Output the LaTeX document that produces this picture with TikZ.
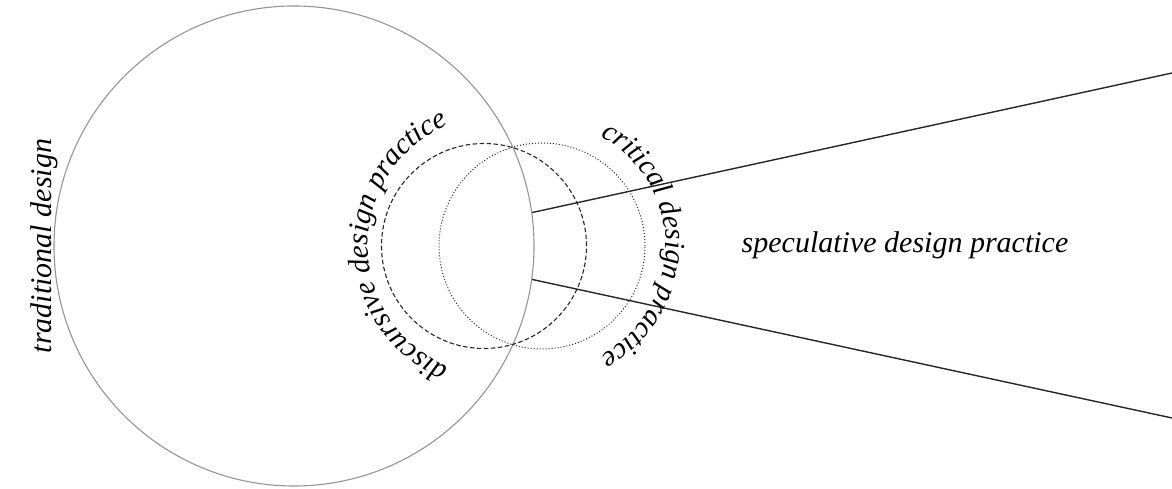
\documentclass[tikz,border=0pt]{standalone}
\usepackage{fontspec}
\setmainfont{Liberation Serif}
\usetikzlibrary{decorations.text,calc}
\newcommand{\lblfont}{\itshape\fontsize{30}{36}\selectfont}
\newcommand{\discfont}{\itshape\fontsize{29.5}{35}\selectfont}
\newcommand{\critfont}{\itshape\fontsize{29}{35}\selectfont}
\tikzset{
  bigcirc/.style={circle, draw=black!42, line width=1.1pt, inner sep=0pt, minimum size=480pt},
  dashcirc/.style={circle, draw=black!85, dashed, dash pattern=on 4.5pt off 2.5pt, line width=1.1pt, inner sep=0pt, minimum size=205pt},
  dotcirc/.style={circle, draw=black!85, dotted, line width=1pt, inner sep=0pt, minimum size=206pt},
  ray/.style={draw=black!85, line width=1.4pt},
  lbl/.style={font=\lblfont, inner sep=0pt},
  arctext/.style={decorate, decoration={text along path, text align=center, text={#1}}}
}
\begin{document}
\begin{tikzpicture}[x=1pt,y=1pt]
\useasboundingbox (0,0) rectangle (1172,489);
\node[bigcirc] (trad) at (294,243) {};
\node[dashcirc] (disc) at (484,243) {};
\node[dotcirc] (crit) at (542,243) {};
\coordinate (endtop) at (1172,416);
\coordinate (endbot) at (1172,71);
\draw[ray] (trad.8.4) -- (endtop);
\draw[ray] (trad.-8.4) -- (endbot);
\node[lbl, rotate=90, anchor=base] (tradlbl) at (51,243) {traditional design};
\node[lbl, anchor=base] (speclbl) at (905,236) {speculative design practice};
\coordinate (dc) at (499,243);
\coordinate (cc) at (542,243);
\path[arctext={|\discfont|discursive design practice}] ($(dc)+(270:131)$) arc[start angle=270, end angle=90, radius=131];
\path[arctext={|\critfont|critical design practice}] ($(cc)+(90:124)$) arc[start angle=90, end angle=-90, radius=124];
\end{tikzpicture}
\end{document}
